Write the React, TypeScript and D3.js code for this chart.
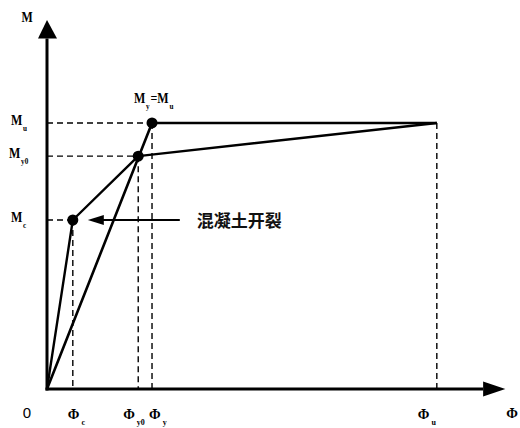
import React from "react";
import * as d3 from "d3";

// curvature values (arbitrary units)
const phiNames = ["c", "y0", "y", "u"];
const phiValues = [0.58, 2.05, 2.36, 8.76];
// moment values (arbitrary units)
const momentNames = ["c", "y0", "u"];
const momentValues = [4.58, 6.31, 7.21];
// curve through cracking, nominal yield, ultimate
const curveA = [
  { phi: 0, m: 0 },
  { phi: 0.58, m: 4.58 },
  { phi: 2.05, m: 6.31 },
  { phi: 8.76, m: 7.21 },
];
// idealised curve
const curveB = [
  { phi: 0, m: 0 },
  { phi: 2.36, m: 7.21 },
  { phi: 8.76, m: 7.21 },
];
const keyPoints = [
  { phi: 0.58, m: 4.58 },
  { phi: 2.05, m: 6.31 },
  { phi: 2.36, m: 7.21 },
];
const crackLabel = "混凝土开裂";

const W = 520;
const H = 428;
const x = d3.scaleLinear().domain([0, 10]).range([47, 492]);
const y = d3.scaleLinear().domain([0, 10]).range([389, 20]);

const serif = "'Liberation Serif', 'DejaVu Serif', serif";

function MLabel({ tx, ty, main, sub, sub2, main2 }: { tx: number; ty: number; main: string; sub: string; main2?: string; sub2?: string }) {
  return (
    <text transform={`translate(${tx},${ty}) scale(0.8,1)`} fontSize={15}>
      {main}
      <tspan fontSize={9} dy={6} dx={1}>{sub}</tspan>
      {main2 ? <tspan dy={-6} dx={1}>{main2}</tspan> : null}
      {sub2 ? <tspan fontSize={9} dy={6} dx={1}>{sub2}</tspan> : null}
    </text>
  );
}

export default function App() {
  const line = d3
    .line<{ phi: number; m: number }>()
    .x((d) => x(d.phi))
    .y((d) => y(d.m));
  const x0 = x(0);
  const y0 = y(0);
  const mu = momentValues[2];
  const phiU = phiValues[3];
  const crack = keyPoints[0];

  return (
    <svg
      width={W}
      height={H}
      style={{ position: "absolute", left: 0, top: 0, background: "#fff" }}
    >
      {/* dashed guides */}
      <g stroke="#000" strokeWidth={1.4} strokeDasharray="6,4" fill="none">
        <line x1={x0} x2={x(keyPoints[2].phi)} y1={y(mu)} y2={y(mu)} />
        <line x1={x0} x2={x(keyPoints[1].phi)} y1={y(momentValues[1])} y2={y(momentValues[1])} />
        <line x1={x0} x2={x(keyPoints[0].phi)} y1={y(momentValues[0])} y2={y(momentValues[0])} />
        <line x1={x(phiValues[0])} x2={x(phiValues[0])} y1={y(momentValues[0])} y2={y0} />
        <line x1={x(phiValues[1])} x2={x(phiValues[1])} y1={y(momentValues[1])} y2={y0} />
        <line x1={x(phiValues[2])} x2={x(phiValues[2])} y1={y(mu)} y2={y0} />
        <line x1={x(phiU)} x2={x(phiU)} y1={y(mu)} y2={y0} />
      </g>

      {/* curves */}
      <path d={line(curveA) || ""} fill="none" stroke="#000" strokeWidth={2.4} strokeLinejoin="round" />
      <path d={line(curveB) || ""} fill="none" stroke="#000" strokeWidth={2.6} strokeLinejoin="round" />
      {keyPoints.map((p, i) => (
        <circle key={i} cx={x(p.phi)} cy={y(p.m)} r={5.5} fill="#000" />
      ))}

      {/* axes */}
      <line x1={x0} x2={x0} y1={y0 + 1.5} y2={y(9.5)} stroke="#000" strokeWidth={3} />
      <polygon points={`${x0},${y(10)} ${x0 - 9},${y(9.5)} ${x0 + 10},${y(9.5)}`} fill="#000" />
      <line x1={x0 - 1.5} x2={x(9.8)} y1={y0} y2={y0} stroke="#000" strokeWidth={3} />
      <polygon points={`${x(10.3)},${y0} ${x(9.8)},${y0 - 7.5} ${x(9.8)},${y0 + 7.5}`} fill="#000" />

      {/* annotation arrow */}
      <line
        x1={x(crack.phi) + 30}
        x2={x(crack.phi) + 107}
        y1={y(crack.m)}
        y2={y(crack.m)}
        stroke="#000"
        strokeWidth={1.8}
      />
      <polygon
        points={`${x(crack.phi) + 15},${y(crack.m)} ${x(crack.phi) + 31},${y(crack.m) - 5} ${x(crack.phi) + 31},${y(crack.m) + 5}`}
        fill="#000"
      />
      <text
        x={x(crack.phi) + 124}
        y={y(crack.m) + 7}
        fontFamily="'Noto Sans CJK SC', sans-serif"
        fontWeight={700}
        fontSize={17}
        fill="#111"
      >
        {crackLabel}
      </text>

      <g fontFamily={serif} fontWeight={700} fill="#000">
        <text transform="translate(27,22) scale(0.85,1)" fontSize={14} textAnchor="middle">M</text>
        <text x={512} y={418} fontSize={14} textAnchor="middle">Φ</text>
        <text x={27} y={418} fontSize={15} fontWeight={400} fontFamily="'Liberation Sans', sans-serif" textAnchor="middle">0</text>

        {momentNames.map((n, i) => (
          <MLabel key={n} tx={n === "y0" ? 9 : 11} ty={y(momentValues[i]) + 2} main="M" sub={n} />
        ))}

        <MLabel tx={134} ty={103} main="M" sub="y" main2="=M" sub2="u" />

        {phiNames.map((n, i) => (
          <text
            key={n}
            x={x(phiValues[i]) + (n === "y0" ? -15 : n === "u" ? -19 : n === "y" ? -3 : -5)}
            y={419}
            fontSize={14}
          >
            Φ<tspan fontSize={8} dy={6} dx={2}>{n}</tspan>
          </text>
        ))}
      </g>
    </svg>
  );
}
